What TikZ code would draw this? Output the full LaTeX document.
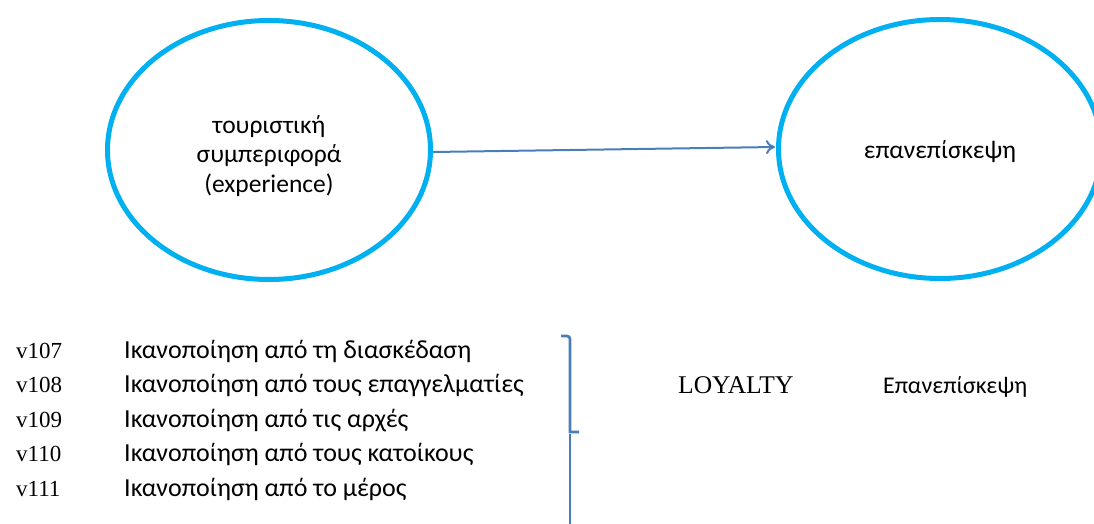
\documentclass[tikz,border=0pt]{standalone}
\usepackage{fontspec}
\setmainfont{Liberation Serif}
\newfontfamily\calibri{Carlito}
\usetikzlibrary{shapes.geometric,arrows.meta,calc}
\definecolor{ringblue}{HTML}{00B0F0}
\definecolor{linkblue}{HTML}{4A7EBB}
\begin{document}
\begin{tikzpicture}[x=1pt,y=-1pt,
  latent/.style={ellipse, draw=ringblue, line width=5pt, minimum width=323pt,
    minimum height=259pt, inner sep=0pt},
  caption/.style={align=center, inner sep=0pt,
    font=\calibri\fontsize{25.5}{29.5}\selectfont},
  link/.style={draw=linkblue, line width=2pt, -{To[length=9pt,width=14pt,line width=2pt]}},
  code/.style={anchor=base west, inner sep=0pt, font=\fontsize{23}{26}\selectfont},
  item/.style={anchor=base west, inner sep=0pt, font=\calibri\fontsize{26}{30}\selectfont},
  bracket/.style={draw=linkblue, line width=2.7pt}]
\useasboundingbox (0,0) rectangle (1094,524);
\clip (0,0) rectangle (1094,524);

% latent constructs
\node[latent] (exp) at (269,150) {};
\node[latent] (rev) at (940,149) {};
\node[caption] (explbl) at ($(exp.center)+(0,6)$) {τουριστική\\συμπεριφορά\\(experience)};
\node[caption] (revlbl) at ($(rev.center)+(0,3)$) {επανεπίσκεψη};
\draw[link] ($(exp.east)+(0,2)$) -- ($(rev.west)+(-1,-2)$);

% indicator list
\foreach \v/\t [count=\i from 0] in {
    v107/Ικανοποίηση από τη διασκέδαση,
    v108/Ικανοποίηση από τους επαγγελματίες,
    v109/Ικανοποίηση από τις αρχές,
    v110/Ικανοποίηση από τους κατοίκους,
    v111/Ικανοποίηση από το μέρος} {
  \node[code] (c\i) at (16,358+34.5*\i) {\v};
  \node[item] (t\i) at (124,358+34.5*\i) {\t};
}

% grouping bracket
\coordinate (btop) at (561,336);
\coordinate (bbot) at (570,530);
\draw[bracket] (btop) -- (567,336) to[out=0,in=90] (570,339) -- (570,432) -- (579,432);
\draw[bracket] (570,434) -- (bbot);

% construct labels
\node[code, font=\fontsize{25.5}{28}\selectfont] (loy) at (678,393) {LOYALTY};
\node[item, font=\calibri\fontsize{24}{28}\selectfont] (epa) at (883,393) {Επανεπίσκεψη};
\end{tikzpicture}
\end{document}
